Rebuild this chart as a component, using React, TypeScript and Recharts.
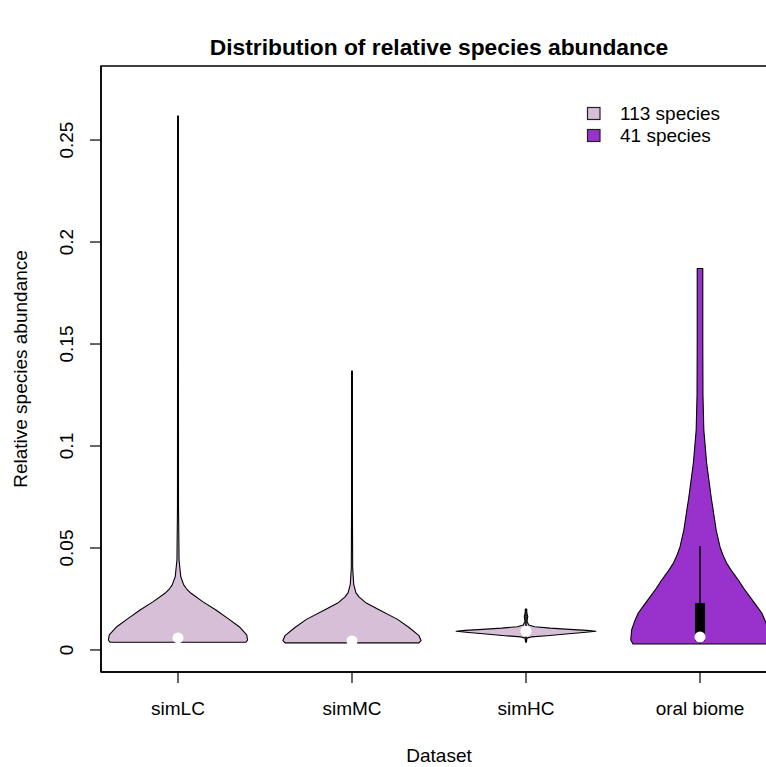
import React from 'react';
import { ComposedChart, Scatter, XAxis, YAxis, ReferenceArea } from 'recharts';

const categories = ['simLC', 'simMC', 'simHC', 'oral biome'];
const categoryPositions = [1, 2, 3, 4];
const yTicks = [0, 0.05, 0.1, 0.15, 0.2, 0.25];
const yTickLabels = ['0', '0.05', '0.1', '0.15', '0.2', '0.25'];
const violinColours = ['#D8BFD8', '#D8BFD8', '#D8BFD8', '#9932CC'];
const legendLabels = ['113 species', '41 species'];
const legendColours = ['#D8BFD8', '#9932CC'];

// violin outlines: abundance levels and half-widths (in category units)
const simLCLevels = [0.0038, 0.0049, 0.0074, 0.0114, 0.0155, 0.0196, 0.0237, 0.0278, 0.03, 0.0319, 0.0359, 0.0441, 0.07, 0.15, 0.2618];
const simLCHalfWidths = [0.391, 0.4, 0.395, 0.352, 0.286, 0.218, 0.142, 0.075, 0.049, 0.033, 0.016, 0.006, 0.003, 0.0025, 0.0025];

const simMCLevels = [0.0035, 0.0046, 0.007, 0.011, 0.015, 0.0196, 0.023, 0.026, 0.028, 0.032, 0.04, 0.07, 0.1368];
const simMCHalfWidths = [0.385, 0.397, 0.385, 0.328, 0.262, 0.158, 0.082, 0.04, 0.023, 0.01, 0.004, 0.0025, 0.0025];

const simHCLevels = [0.004, 0.0058, 0.0064, 0.007, 0.0078, 0.0086, 0.0092, 0.0096, 0.0101, 0.0107, 0.0114, 0.0122, 0.014, 0.0165, 0.018, 0.0201];
const simHCHalfWidths = [0.003, 0.005, 0.03, 0.12, 0.23, 0.33, 0.402, 0.35, 0.25, 0.14, 0.05, 0.016, 0.006, 0.01, 0.005, 0.004];

const oralLevels = [0.0029, 0.0049, 0.0098, 0.014, 0.0181, 0.022, 0.026, 0.03, 0.0343, 0.0385, 0.0426, 0.0465, 0.0505, 0.0588, 0.075, 0.0917, 0.1078, 0.125, 0.15, 0.17, 0.187];
const oralHalfWidths = [0.385, 0.398, 0.393, 0.376, 0.355, 0.322, 0.287, 0.253, 0.22, 0.184, 0.153, 0.132, 0.115, 0.093, 0.064, 0.038, 0.022, 0.017, 0.016, 0.016, 0.016];

const medians = [0.0059, 0.0044, 0.0092, 0.0064];
const whiskerLow = [null, null, 0.0035, 0.003];
const whiskerHigh = [null, null, 0.0201, 0.051];
const boxLow = [null, null, null, 0.0045];
const boxHigh = [null, null, null, 0.023];

const violinLevels = [simLCLevels, simMCLevels, simHCLevels, oralLevels];
const violinHalfWidths = [simLCHalfWidths, simMCHalfWidths, simHCHalfWidths, oralHalfWidths];

const X_DOMAIN: [number, number] = [0.5575, 4.4425];
const Y_DOMAIN: [number, number] = [-0.0108, 0.2863];

const FONT = '"Liberation Sans", Arial, Helvetica, sans-serif';

function violinData(center: number, levels: number[], widths: number[]) {
  const right = levels.map((y, i) => ({ x: center + widths[i], y }));
  const left = levels.map((y, i) => ({ x: center - widths[i], y })).reverse();
  return [...right, ...left];
}

const Empty = () => <g />;

const YTick = (props: any) => {
  const { y, payload } = props;
  const idx = yTicks.indexOf(payload.value);
  const label = idx >= 0 ? yTickLabels[idx] : String(payload.value);
  return (
    <text
      x={67}
      y={y}
      transform={`rotate(-90 67 ${y})`}
      textAnchor="middle"
      dominantBaseline="central"
      fontSize={19}
      fill="#000"
      fontFamily={FONT}
    >
      {label}
    </text>
  );
};

export default function App() {
  return (
    <div
      style={{
        position: 'absolute',
        left: 0,
        top: 0,
        width: 766,
        height: 767,
        overflow: 'hidden',
        background: '#fff',
        fontFamily: FONT,
      }}
    >
      <ComposedChart width={800} height={767} margin={{ top: 66, right: 23, bottom: 0, left: 0 }}>
        <XAxis
          type="number"
          dataKey="x"
          domain={X_DOMAIN}
          allowDataOverflow
          ticks={categoryPositions}
          tickFormatter={(v: number) => categories[categoryPositions.indexOf(v)] ?? ''}
          height={95}
          tickSize={11}
          tickMargin={19}
          tick={{ fontSize: 19, fill: '#000', fontFamily: FONT }}
          axisLine={{ stroke: '#000', strokeWidth: 1.5 }}
          tickLine={{ stroke: '#000', strokeWidth: 1.2 }}
          interval={0}
        />
        <YAxis
          type="number"
          dataKey="y"
          domain={Y_DOMAIN}
          allowDataOverflow
          ticks={yTicks}
          width={101}
          tickSize={11}
          tick={<YTick />}
          axisLine={{ stroke: '#000', strokeWidth: 1.5 }}
          tickLine={{ stroke: '#000', strokeWidth: 1.2 }}
          interval={0}
        />
        <ReferenceArea
          x1={X_DOMAIN[0]}
          x2={X_DOMAIN[1]}
          y1={Y_DOMAIN[0]}
          y2={Y_DOMAIN[1]}
          fill="none"
          fillOpacity={0}
          stroke="#000"
          strokeWidth={1.5}
          ifOverflow="visible"
        />
        {categoryPositions.map((c, i) => (
          <Scatter
            key={`violin-${i}`}
            data={violinData(c, violinLevels[i], violinHalfWidths[i])}
            isAnimationActive={false}
            shape={Empty}
            line={(p: any) => (
              <polygon
                points={p.points.map((q: any) => `${q.x},${q.y}`).join(' ')}
                fill={violinColours[i]}
                stroke="#000"
                strokeWidth={1.1}
                strokeLinejoin="round"
              />
            )}
          />
        ))}
        {categoryPositions.map((c, i) =>
          whiskerLow[i] != null ? (
            <Scatter
              key={`whisker-${i}`}
              data={[{ x: c, y: whiskerLow[i] }, { x: c, y: whiskerHigh[i] }]}
              isAnimationActive={false}
              shape={Empty}
              line={{ stroke: '#000', strokeWidth: 1.5 }}
            />
          ) : null
        )}
        {categoryPositions.map((c, i) =>
          boxLow[i] != null ? (
            <Scatter
              key={`box-${i}`}
              data={[{ x: c, y: boxLow[i] }, { x: c, y: boxHigh[i] }]}
              isAnimationActive={false}
              shape={Empty}
              line={{ stroke: '#000', strokeWidth: 10 }}
            />
          ) : null
        )}
        <Scatter
          data={medians.map((m, i) => ({ x: categoryPositions[i], y: m }))}
          isAnimationActive={false}
          shape={(p: any) => <circle cx={p.cx} cy={p.cy} r={5.5} fill="#fff" />}
        />
      </ComposedChart>
      <svg
        width={766}
        height={767}
        style={{ position: 'absolute', left: 0, top: 0, pointerEvents: 'none' }}
        fontFamily={FONT}
      >
        <text x={439} y={47} textAnchor="middle" dominantBaseline="central" fontSize={22.8} fontWeight="bold" fill="#000">
          Distribution of relative species abundance
        </text>
        <text x={439} y={755} textAnchor="middle" dominantBaseline="central" fontSize={19} fill="#000">
          Dataset
        </text>
        <text
          x={20}
          y={369}
          transform="rotate(-90 20 369)"
          textAnchor="middle"
          dominantBaseline="central"
          fontSize={19}
          fill="#000"
        >
          Relative species abundance
        </text>
        {legendLabels.map((l, i) => (
          <g key={l}>
            <rect x={587.5} y={107.5 + i * 22} width={12.5} height={12} fill={legendColours[i]} stroke="#222" strokeWidth={1.2} />
            <text x={620} y={113 + i * 22} dominantBaseline="central" fontSize={19} fill="#000">
              {l}
            </text>
          </g>
        ))}
      </svg>
    </div>
  );
}
